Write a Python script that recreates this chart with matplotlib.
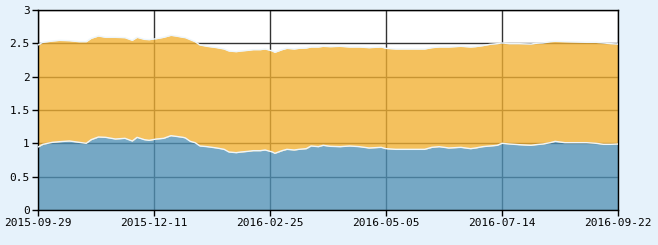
import numpy as np
import matplotlib
matplotlib.use('Agg')
import matplotlib.pyplot as plt

# trading-day index of each sample
day_idx = [0, 2, 6, 9, 13, 17, 20, 22, 25, 28, 32, 36, 39, 41, 44, 46, 49, 52, 55, 57,
           60, 61, 63, 65, 67, 70, 72, 74, 77, 79, 82, 84, 87, 89, 92, 94, 97, 98, 101, 103,
           106, 108, 111, 113, 116, 118, 121, 125, 129, 133, 137, 142, 144, 148, 154, 160, 163, 166, 170, 175,
           179, 181, 184, 187, 190, 192, 195, 199, 204, 206, 209, 212, 214, 218, 223, 227, 231, 234, 237, 240]

# lower (blue) series
blue = [0.945, 0.985, 1.015, 1.025, 1.035, 1.015, 1.0, 1.055, 1.095, 1.09, 1.065, 1.075, 1.035, 1.09, 1.055, 1.045, 1.065, 1.075, 1.115, 1.105,
        1.09, 1.08, 1.03, 1.01, 0.96, 0.95, 0.94, 0.93, 0.91, 0.87, 0.86, 0.87, 0.88, 0.89, 0.89, 0.90, 0.87, 0.85, 0.89, 0.91,
        0.90, 0.91, 0.92, 0.96, 0.95, 0.97, 0.955, 0.95, 0.96, 0.95, 0.93, 0.94, 0.92, 0.91, 0.91, 0.91, 0.94, 0.95, 0.93, 0.94,
        0.92, 0.93, 0.95, 0.96, 0.97, 1.0, 0.99, 0.98, 0.97, 0.98, 0.99, 1.01, 1.03, 1.01, 1.01, 1.01, 1.0, 0.985, 0.985, 0.99]

# top of the stack (blue + orange)
total = [2.475, 2.515, 2.535, 2.545, 2.54, 2.525, 2.525, 2.575, 2.61, 2.59, 2.59, 2.585, 2.545, 2.59, 2.56, 2.555, 2.57, 2.59, 2.62, 2.61,
         2.59, 2.585, 2.555, 2.525, 2.475, 2.455, 2.445, 2.435, 2.415, 2.385, 2.375, 2.385, 2.395, 2.405, 2.405, 2.415, 2.385, 2.365, 2.405, 2.425,
         2.415, 2.425, 2.43, 2.445, 2.445, 2.455, 2.45, 2.455, 2.445, 2.445, 2.435, 2.445, 2.425, 2.415, 2.415, 2.415, 2.435, 2.445, 2.445, 2.455,
         2.445, 2.45, 2.465, 2.485, 2.495, 2.505, 2.495, 2.495, 2.49, 2.50, 2.505, 2.525, 2.53, 2.525, 2.52, 2.515, 2.515, 2.505, 2.495, 2.49]

tick_idx = [0, 48, 96, 144, 192, 240]
tick_labels = ['2015-09-29', '2015-12-11', '2016-02-25', '2016-05-05', '2016-07-14', '2016-09-22']
y_ticks = [0, 0.5, 1, 1.5, 2, 2.5, 3]
y_labels = ['0', '0.5', '1', '1.5', '2', '2.5', '3']

x = np.array(day_idx)
lo = np.array(blue)
hi = np.array(total)

fig = plt.figure(figsize=(6.58, 2.45), dpi=100, facecolor='#e6f2fb')
ax = fig.add_axes([38/658, 35/245, 580/658, 200/245])
ax.set_facecolor('white')

# grid sits under semi-transparent areas, so it shows through darker
ax.set_axisbelow(True)
ax.grid(True, color='#333333', linewidth=1)

ax.fill_between(x, 0, lo, color=(80/255, 145/255, 182/255), alpha=0.785, linewidth=0, zorder=2)
ax.fill_between(x, lo, hi, color=(241/255, 176/255, 50/255), alpha=0.785, linewidth=0, zorder=2)
ax.plot(x, lo, color='#eef6fb', linewidth=1, zorder=3)
ax.plot(x, hi, color='#eef6fb', linewidth=1, zorder=3)

ax.set_xlim(0, 240)
ax.set_ylim(0, 3)
ax.set_xticks(tick_idx)
ax.set_xticklabels(tick_labels)
ax.set_yticks(y_ticks)
ax.set_yticklabels(y_labels)

for s in ax.spines.values():
    s.set_color('black')
    s.set_linewidth(1)
ax.tick_params(direction='out', length=4, width=1, colors='black', labelsize=8, pad=2)
for lab in ax.get_xticklabels() + ax.get_yticklabels():
    lab.set_family('DejaVu Sans Mono')

fig.savefig('out.png', dpi=100, facecolor=fig.get_facecolor())
